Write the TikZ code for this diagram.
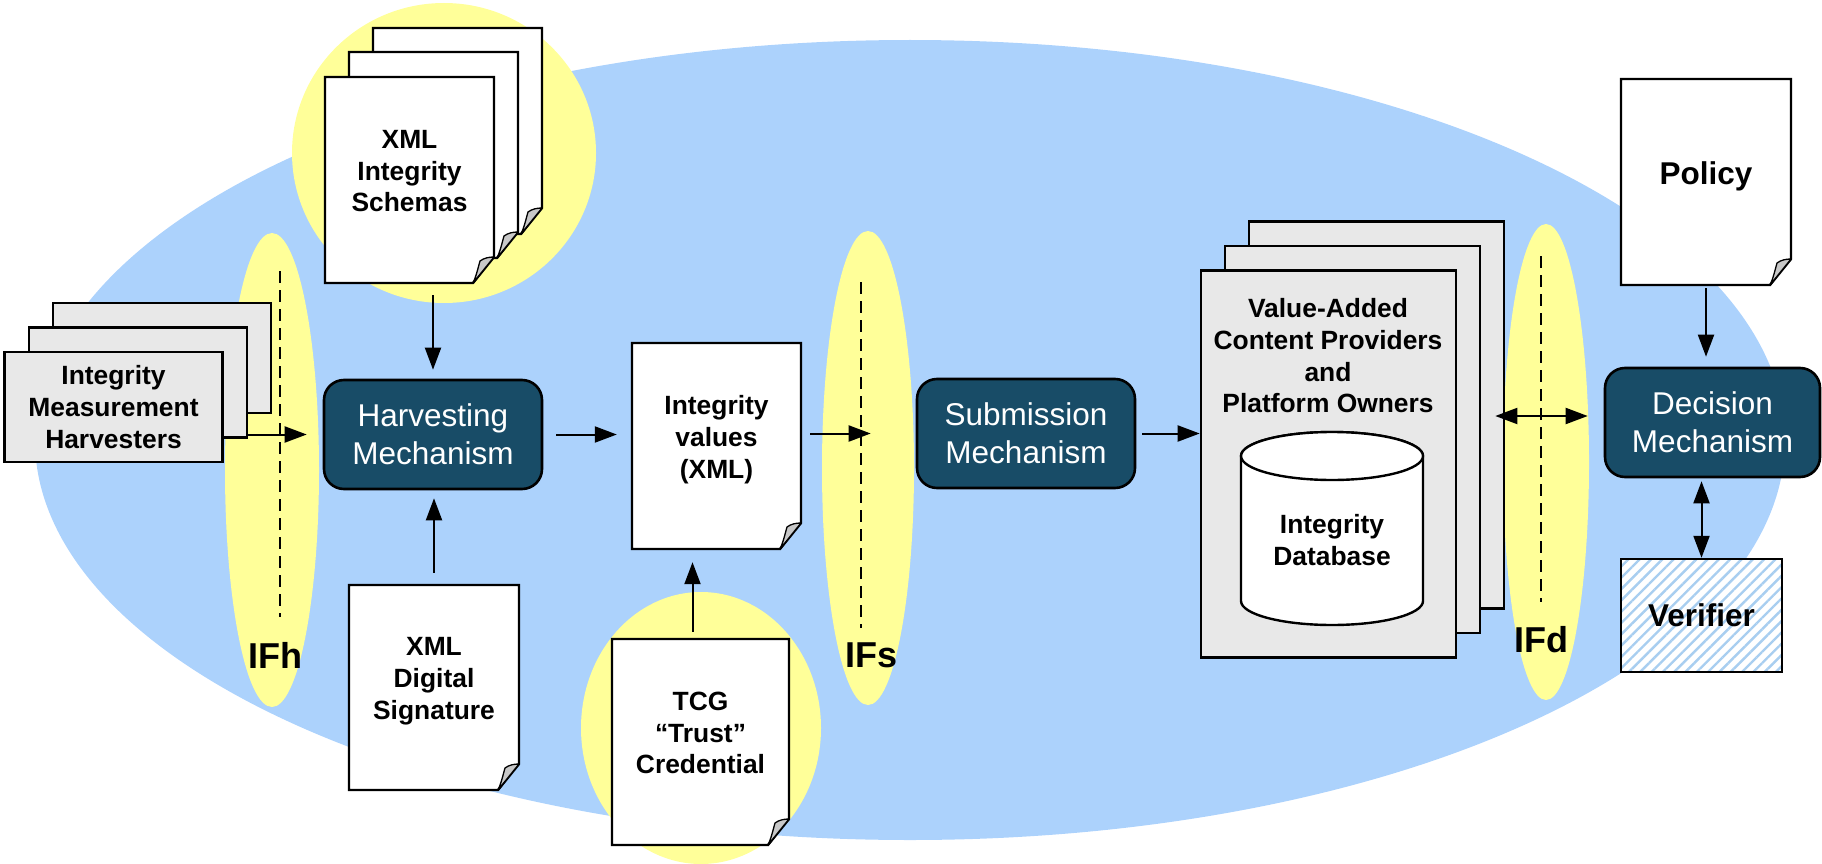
\documentclass[tikz,border=0pt]{standalone}
\usepackage{fontspec}
\setmainfont{Liberation Sans}
\usetikzlibrary{arrows.meta,patterns.meta,calc}

\definecolor{zoneblue}{RGB}{172,210,252}
\definecolor{haloyellow}{RGB}{255,255,153}
\definecolor{mechteal}{RGB}{24,76,103}
\definecolor{cardgray}{RGB}{232,232,232}
\definecolor{curlgray}{RGB}{200,200,200}
\definecolor{hatchblue}{RGB}{168,206,240}

% lowers the visual weight of a page's text box so the text sits a little high
\newcommand\lift{\rule[-18pt]{0pt}{0pt}}

% a sheet of paper with a curled lower-right corner, plus its named text node
% #1 extra node options, #2 name, #3 x1, #4 y1, #5 x2, #6 y2, #7 text
\newcommand\sheetdoc[7][]{%
  \filldraw[sheet] (#3,#4) -- (#5,#4) -- (#5,#6-26) -- (#5-21,#6) -- (#3,#6) -- cycle;
  \filldraw[curl] (#5,#6-26) .. controls (#5-5,#6-26) and (#5-10,#6-25) .. (#5-14,#6-22)
     .. controls (#5-16,#6-15) and (#5-18,#6-6) .. (#5-21,#6) -- cycle;
  \node[doctext, minimum width={(#5-#3)*1pt}, minimum height={(#6-#4)*1pt}, #1]
     (#2) at ({(#3+#5)/2},{(#4+#6)/2}) {#7};
}

\begin{document}
\begin{tikzpicture}[
  x=1pt, y=-1pt,
  zone/.style={fill=zoneblue},
  halo/.style={fill=haloyellow},
  sheet/.style={draw=black, line width=2.4pt, fill=white, line join=miter},
  curl/.style={draw=black, line width=1.3pt, fill=curlgray, line join=round},
  card/.style={draw=black, line width=2.6pt, fill=cardgray, inner sep=0pt},
  drum/.style={draw=black, line width=2.4pt, fill=white},
  mech/.style={draw=black, line width=2.6pt, fill=mechteal, rounded corners=20pt,
    minimum width=218pt, minimum height=109pt, inner sep=0pt, text=white,
    align=center, font=\fontsize{31.5}{38}\selectfont},
  doctext/.style={inner sep=0pt, align=center, font=\fontsize{26.4}{31.7}\selectfont\bfseries},
  bigtext/.style={font=\fontsize{31.5}{38}\selectfont\bfseries},
  verbox/.style={draw=black, line width=2.4pt, preaction={fill=white},
    pattern={Lines[angle=45,distance=8pt,line width=2.4pt]}, pattern color=hatchblue,
    inner sep=0pt, bigtext},
  flow/.style={line width=2pt, -{Triangle[length=22pt,width=16pt]}},
  both/.style={line width=2pt, {Triangle[length=22pt,width=16pt]}-{Triangle[length=22pt,width=16pt]}},
  ifline/.style={line width=2pt, dash pattern=on 12pt off 7pt},
  iflabel/.style={font=\fontsize{36}{40}\selectfont\bfseries, inner sep=0pt}
]
\useasboundingbox (0,0) rectangle (1822,864);

% trusted zone
\fill[zone] (910,440) ellipse [x radius=875pt, y radius=400pt];

% highlight halos
\fill[halo] (444,153) ellipse [x radius=152pt, y radius=150pt];
\fill[halo] (701,728) ellipse [x radius=120pt, y radius=136pt];
\fill[halo] (272,470) ellipse [x radius=47pt, y radius=237pt];
\fill[halo] (868,468) ellipse [x radius=46pt, y radius=237pt];
\fill[halo] (1546,462) ellipse [x radius=43pt, y radius=238pt];

% interface boundaries
\draw[ifline] (280,271) -- (280,617);
\draw[ifline] (861,282) -- (861,628);
\draw[ifline] (1541,256) -- (1541,602);
\node[iflabel] (ifh) at (275,655) {IFh};
\node[iflabel] (ifs) at (871,655) {IFs};
\node[iflabel] (ifd) at (1541,640) {IFd};

% measurement harvesters
\node[card, minimum width=218pt, minimum height=110pt] (hv3) at (162,358) {};
\node[card, minimum width=218pt, minimum height=110pt] (hv2) at (138,382.5) {};
\node[card, minimum width=218pt, minimum height=110pt, doctext] (hv1) at (113.5,407)
  {Integrity\\Measurement\\Harvesters};

% schemas
\sheetdoc{sch3}{373}{28}{542}{234}{}
\sheetdoc{sch2}{349}{52}{518}{258}{}
\sheetdoc{sch1}{325}{77}{494}{283}{XML\\Integrity\\Schemas\lift}

% documents
\sheetdoc{sig}{349}{585}{519}{790}{XML\\Digital\\Signature\lift}
\sheetdoc{iv}{632}{343}{801}{549}{Integrity\\values\\(XML)\lift}
\sheetdoc{tcg}{612}{639}{789}{845}{TCG\\“Trust”\\Credential\lift}
\sheetdoc[bigtext]{pol}{1621}{79}{1791}{285}{Policy\lift}

% mechanisms
\node[mech] (hm) at (433,434.5) {Harvesting\\Mechanism};
\node[mech] (sm) at (1026,433.5) {Submission\\Mechanism};
\node[mech, minimum width=215pt] (dm) at (1712.5,422.5) {Decision\\Mechanism};

% verifier
\node[verbox, minimum width=161pt, minimum height=113pt] (ver) at (1701.5,615.5) {Verifier};

% value-added providers
\node[card, minimum width=255pt, minimum height=387pt] (va3) at (1376.5,415) {};
\node[card, minimum width=255pt, minimum height=387pt] (va2) at (1352.5,439.5) {};
\node[card, minimum width=255pt, minimum height=387pt] (va1) at (1328.5,464) {};
\node[doctext] (vatext) at (1328,356) {Value-Added\\Content Providers\\and\\Platform Owners};

% integrity database
\filldraw[drum] (1241,456) -- (1241,601)
  arc[start angle=180, end angle=360, x radius=91pt, y radius=24pt]
  -- (1423,456)
  arc[start angle=0, end angle=180, x radius=91pt, y radius=24pt] -- cycle;
\draw[drum] (1332,456) ellipse [x radius=91pt, y radius=24pt];
\node[doctext] (db) at (1332,540) {Integrity\\Database};

% flows
\draw[flow, shorten >=16pt] (hv2.east |- hm.west) -- (hm.west);
\draw[flow, shorten <=12pt, shorten >=9pt] (hm.north |- sch1.south) -- (hm.north);
\draw[flow, shorten <=12pt, shorten >=8pt] (sig.north) -- (sig.north |- hm.south);
\draw[flow, shorten <=13pt, shorten >=15pt] (hm.east) -- (hm.east -| iv.west);
\draw[flow, shorten <=7pt, shorten >=13pt] ([xshift=-8pt]tcg.north) -- ([xshift=-8pt]tcg.north |- iv.south);
\draw[flow, shorten <=9pt, shorten >=45pt] (iv.east |- sm.west) -- (sm.west);
\draw[flow, shorten <=6pt] (sm.east) -- (sm.east -| va1.west);
\draw[both, shorten <=-10pt, shorten >=16pt] ([yshift=6.5pt]dm.west -| va3.east) -- ([yshift=6.5pt]dm.west);
\draw[flow, shorten <=3pt, shorten >=10pt] (pol.south) -- (pol.south |- dm.north);
\draw[both, shorten <=3pt] (ver.north |- dm.south) -- (ver.north);
\end{tikzpicture}
\end{document}
